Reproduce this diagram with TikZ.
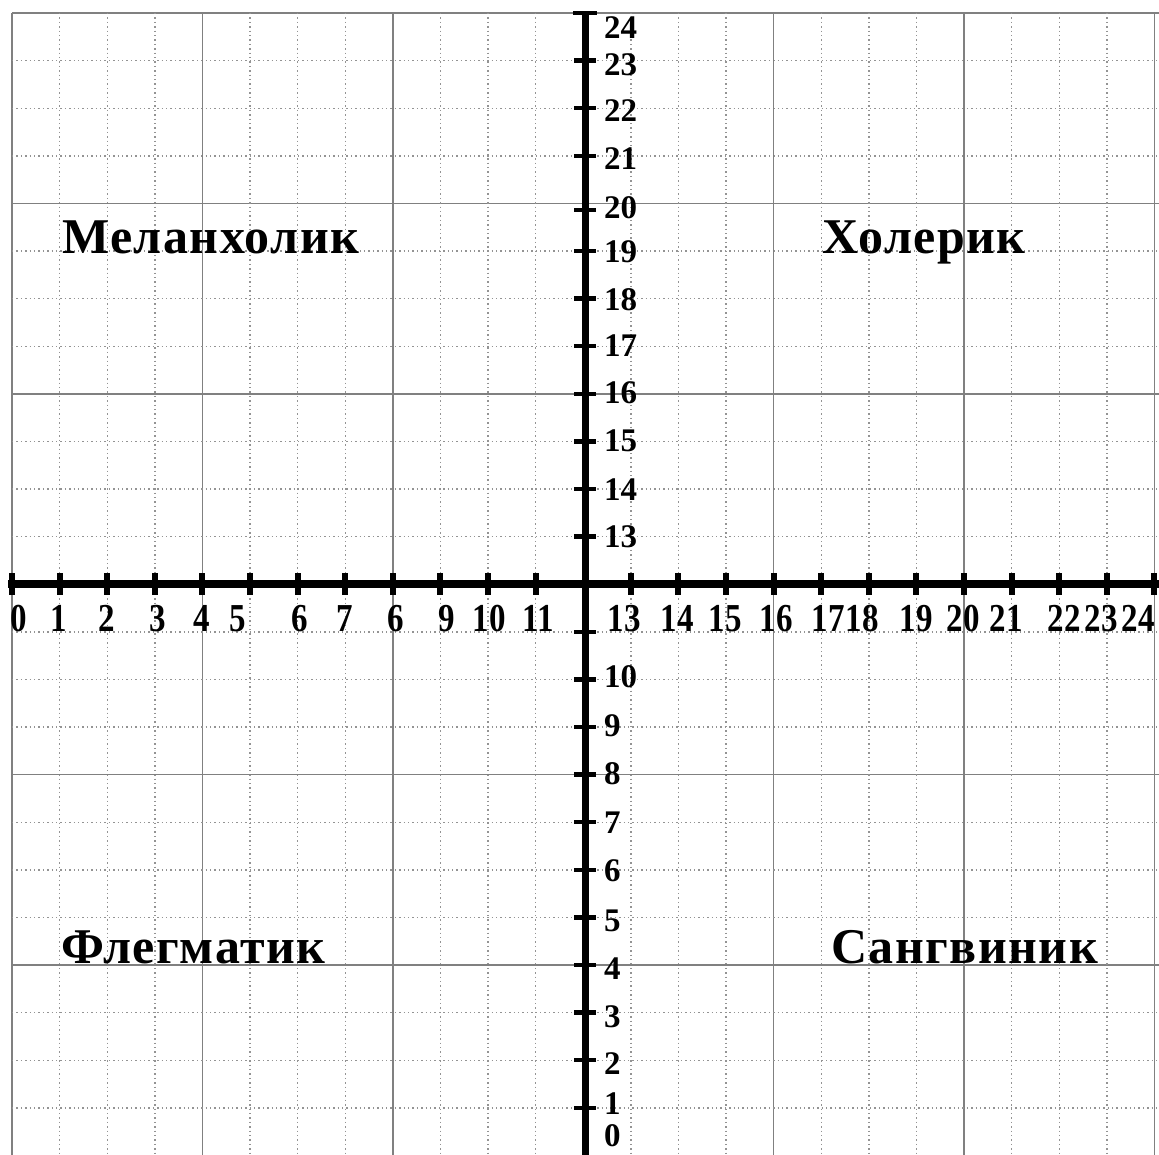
\documentclass[tikz,border=0pt]{standalone}
\usepackage{fontspec}
\setmainfont{Liberation Serif}
\newfontfamily\qfont[LetterSpace=3]{Liberation Serif}
\begin{document}
\begin{tikzpicture}[x=1pt,y=-1pt,
  majorline/.style={draw=gray, line width=1.6pt},
  minorline/.style={draw=gray!85, line width=1.4pt, dash pattern=on 1.4pt off 3pt},
  axisline/.style={draw=black, line width=8pt},
  capline/.style={draw=black, line width=4pt},
  xtick/.style={draw=black, line width=6pt},
  ytick/.style={draw=black, line width=4.5pt},
  xlab/.style={font=\bfseries\fontsize{33}{33}\selectfont, yscale=1.2, inner sep=0pt, anchor=base},
  ylab/.style={font=\bfseries\fontsize{33}{33}\selectfont, inner sep=0pt, anchor=base west},
  qlab/.style={font=\qfont\bfseries\fontsize{50}{50}\selectfont, inner sep=0pt, anchor=base west}]
\useasboundingbox (0,0) rectangle (1159,1154);
% grid
\foreach \i in {0,...,24} {
  \pgfmathsetmacro\p{12+47.6*\i}
  \pgfmathsetmacro\q{13+47.6*\i}
  \pgfmathtruncatemacro\m{mod(\i,4)}
  \ifnum\m=0
    \draw[majorline] (\p,13) -- (\p,1156);
    \draw[majorline] (12,\q) -- (1159,\q);
  \else
    \draw[minorline] (\p,13) -- (\p,1156);
    \draw[minorline] (12,\q) -- (1159,\q);
  \fi
}
% axes
\coordinate (xl) at (8,584);
\coordinate (xr) at (1159,584);
\coordinate (yt) at (585,12);
\coordinate (yb) at (585,1156);
\coordinate (capl) at (573,13);
\coordinate (capr) at (597,13);
\draw[axisline] (xl) -- (xr);
\draw[axisline, line width=7pt] (yt) -- (yb);
\draw[capline] (capl) -- (capr);
\foreach \i in {0,...,11,13,14,...,24} {
  \pgfmathsetmacro\p{12+47.6*\i}
  \draw[xtick] (\p,573) -- (\p,595);
}
\foreach \v in {1,...,11,13,14,...,19,21,22,23} {
  \pgfmathsetmacro\q{13+47.6*(24-\v)}
  \draw[ytick] (574,\q) -- (596,\q);
}
\draw[ytick] (574,210) -- (596,210);
% x labels
\foreach \x/\t [count=\k] in {19/0,59/1,107/2,158/3,202/4,238/5,300/6,345/7,396/6,447/9,489/10,538/11,624/13,677/14,725/15,776/16,828/17,862/18,916/19,963/20,1006/21,1064/22,1101/23,1138/24}
  \node[xlab] (hl\k) at (\x,631) {\t};
% y labels
\foreach \y/\t [count=\k] in {38/24,75/23,121/22,169/21,218/20,262/19,310/18,356/17,403/16,451/15,500/14,547/13,687/10,736/9,784/8,833/7,881/6,931/5,979/4,1027/3,1074/2,1114/1,1146/0}
  \node[ylab] (vl\k) at (604,\y) {\t};
% quadrant labels
\node[qlab] (mel) at (62,253) {Меланхолик};
\node[qlab] (hol) at (822,253) {Холерик};
\node[qlab] (fle) at (61,963) {Флегматик};
\node[qlab] (san) at (831,963) {Сангвиник};
\end{tikzpicture}
\end{document}
